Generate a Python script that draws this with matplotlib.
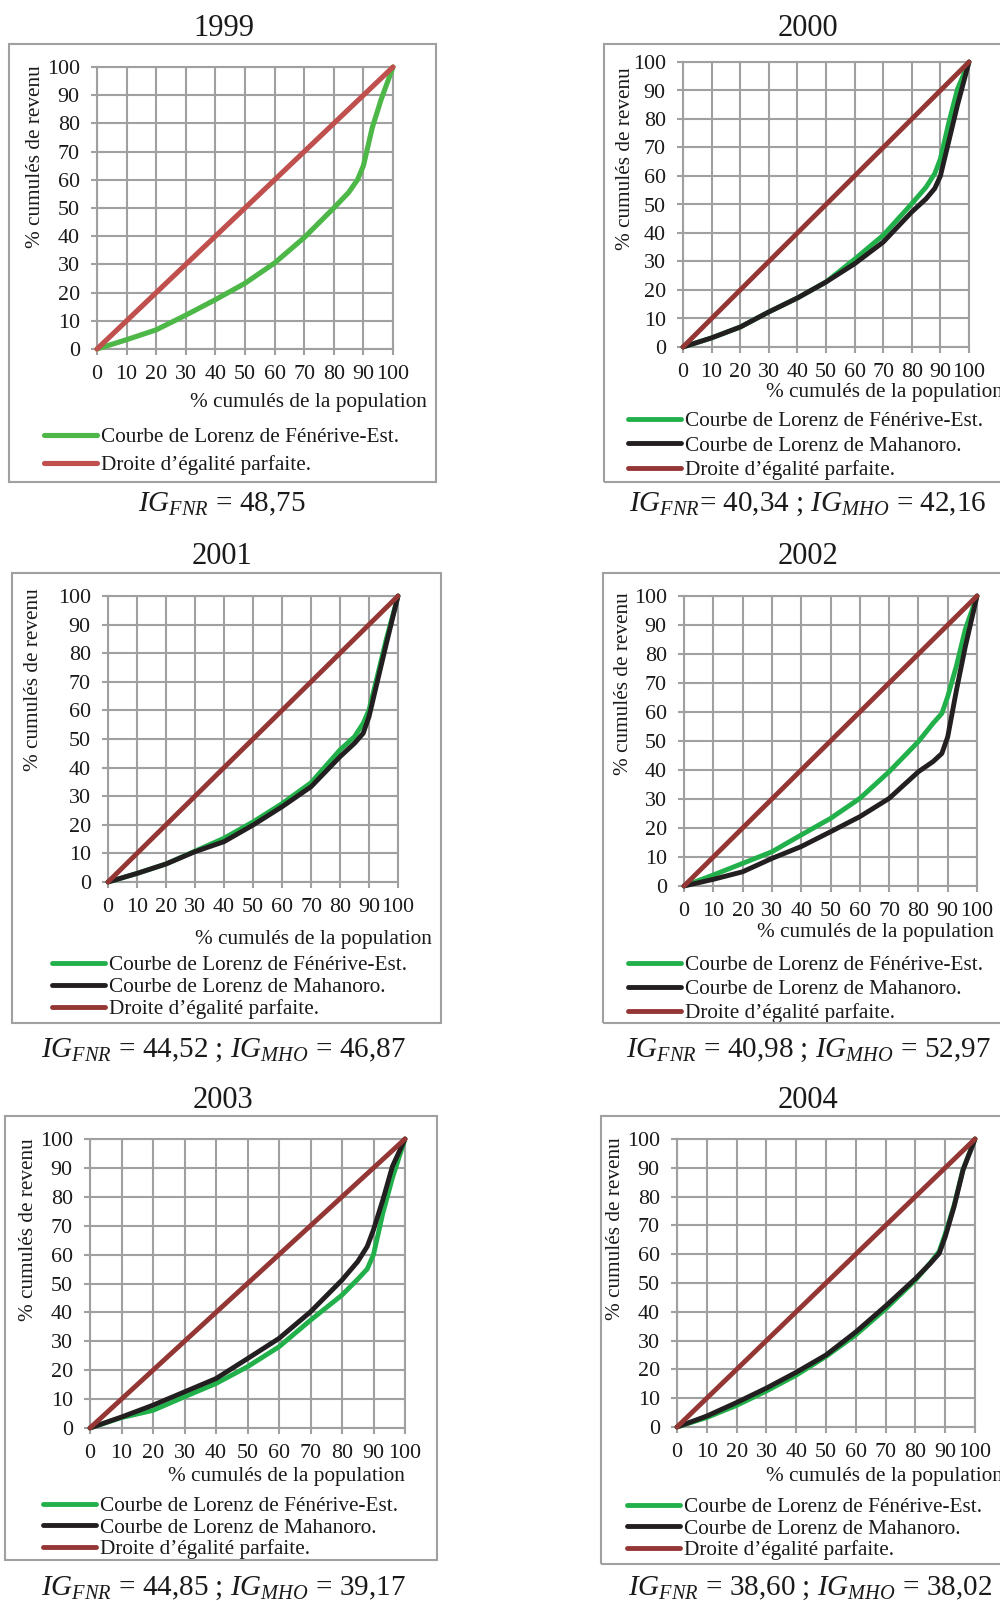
import matplotlib
matplotlib.use("Agg")
import matplotlib.pyplot as plt
from matplotlib.patches import Rectangle

plt.rcParams['font.family'] = ['Liberation Serif', 'DejaVu Serif']
plt.rcParams['mathtext.fontset'] = 'custom'
plt.rcParams['mathtext.rm'] = 'Liberation Serif'
plt.rcParams['mathtext.it'] = 'Liberation Serif:italic'

# % cumulés de la population
pop = [0, 10, 20, 30, 40, 50, 60, 70, 80, 85, 88, 90, 93, 96, 100]
egalite_x = [0, 100]
egalite_y = [0, 100]

years = ['1999', '2000', '2001', '2002', '2003', '2004']

# % cumulés de revenu, Fénérive-Est
fnr_1999 = [0, 3.3, 6.8, 12, 17.5, 23.3, 30.5, 39.5, 50, 55.5, 60, 65, 78.5, 88.5, 100]
fnr_2000 = [0, 3.2, 7.0, 12.3, 17.2, 22.8, 30.8, 39.2, 50.3, 56.1, 60.8, 66, 79, 90.6, 100]
fnr_2001 = [0, 3.0, 6.3, 10.8, 15.3, 21, 27.4, 34.7, 46.2, 50.8, 55.5, 60.1, 72.5, 85, 100]
fnr_2002 = [0, 3.8, 7.8, 11.8, 17.6, 23.3, 30.2, 39.4, 49.8, 56.1, 59.5, 65.3, 76, 88.5, 100]
fnr_2003 = [0, 3.6, 6.1, 10.8, 15.4, 21.2, 28.1, 37.3, 46, 51.5, 55, 60, 74.5, 86.5, 100]
fnr_2004 = [0, 3.3, 7.5, 12.5, 18, 24.5, 32, 41, 51, 57, 61, 67, 77, 89.5, 100]

# % cumulés de revenu, Mahanoro (pas de courbe en 1999)
mho_2000 = [0, 3.2, 7.0, 12.3, 17.2, 22.8, 29.2, 36.8, 47.4, 52, 55.6, 60, 72.5, 85, 100]
mho_2001 = [0, 3.0, 6.3, 10.6, 14.1, 19.9, 26.3, 33.3, 43.8, 48.5, 52, 57.8, 70.6, 83.4, 100]
mho_2002 = [0, 2.3, 4.9, 9.5, 13.6, 18.7, 23.9, 30.2, 39.4, 42.9, 45.7, 51.4, 67.6, 82.5, 100]
mho_2003 = [0, 3.8, 7.9, 12.5, 17.1, 24, 31, 40.2, 51.2, 57.6, 62.8, 68.6, 79, 90.5, 100]
mho_2004 = [0, 3.8, 8.5, 13.5, 19, 25, 33, 42, 51.5, 56.8, 60.3, 66, 76.6, 89.3, 100]

fnr = [fnr_1999, fnr_2000, fnr_2001, fnr_2002, fnr_2003, fnr_2004]
mho = [None, mho_2000, mho_2001, mho_2002, mho_2003, mho_2004]

captions = [
    r'$\mathit{IG}_{\mathit{FNR}}$ = 48,75',
    r'$\mathit{IG}_{\mathit{FNR}}$= 40,34 ; $\mathit{IG}_{\mathit{MHO}}$ = 42,16',
    r'$\mathit{IG}_{\mathit{FNR}}$ = 44,52 ; $\mathit{IG}_{\mathit{MHO}}$ = 46,87',
    r'$\mathit{IG}_{\mathit{FNR}}$ = 40,98 ; $\mathit{IG}_{\mathit{MHO}}$ = 52,97',
    r'$\mathit{IG}_{\mathit{FNR}}$ = 44,85 ; $\mathit{IG}_{\mathit{MHO}}$ = 39,17',
    r'$\mathit{IG}_{\mathit{FNR}}$ = 38,60 ; $\mathit{IG}_{\mathit{MHO}}$ = 38,02',
]

lab_fnr = 'Courbe de Lorenz de Fénérive-Est.'
lab_mho = 'Courbe de Lorenz de Mahanoro.'
lab_eg = 'Droite d\u2019égalité parfaite.'

# layout in pixels of the 1000x1601 image
W, H = 1000.0, 1601.0
# plot area: x0, x100, y100, y0
plots = [(97, 393, 67, 349), (683, 969, 62, 347),
         (108, 398, 596, 882), (684, 977, 596, 886),
         (90, 405, 1139, 1428), (677, 975, 1139, 1427)]
# frame: left, top, right, bottom
frames = [(9, 44, 436, 482), (604, 44, 1010, 482),
          (12, 573, 441, 1023), (603, 573, 1010, 1023),
          (5, 1116, 437, 1560), (601, 1116, 1010, 1564)]
titles_pos = [(224, 28), (808, 28), (222, 557), (808, 557), (223, 1101), (808, 1101)]
caption_pos = [(222, 504), (808, 504), (223, 1050), (808, 1050), (223, 1588), (810, 1588)]
ylabel_pos = [(36, 65), (625, 67), (34, 588), (623, 592), (29, 1138), (616, 1137)]
xlabel_pos = [(427, 403), (1003, 393), (432, 939), (994, 932), (405, 1476), (1003, 1476)]
# legend: handle start x, first row y, row pitch
legend_pos = [(44, 438, 29), (628, 422, 25.5), (52, 966, 23), (628, 966, 25),
              (43, 1507, 22.3), (627, 1508, 22.3)]

grid_col = '#A0A0A0'
fs = 15.3
fs_tick = 15.8


def fx(x):
    return x / W


def fy(y):
    return 1 - y / H


fig = plt.figure(figsize=(10, 16.01), dpi=100)

for i in range(6):
    x0, x1, y1, y0 = plots[i]
    ax = fig.add_axes([fx(x0), fy(y0), (x1 - x0) / W, (y0 - y1) / H])

    if i == 0:
        c_fnr, c_eg, lw = '#4DB748', '#C0504D', 3.7
    else:
        c_fnr, c_eg, lw = '#22B04B', '#943634', 3.5

    handles = []
    l1, = ax.plot(pop, fnr[i], color=c_fnr, lw=lw, label=lab_fnr,
                  solid_joinstyle='round', solid_capstyle='round', clip_on=False, zorder=3)
    handles.append(l1)
    if mho[i] is not None:
        l2, = ax.plot(pop, mho[i], color='#231F20', lw=lw, label=lab_mho,
                      solid_joinstyle='round', solid_capstyle='round', clip_on=False, zorder=4)
        handles.append(l2)
    l3, = ax.plot(egalite_x, egalite_y, color=c_eg, lw=lw, label=lab_eg,
                  solid_capstyle='round', clip_on=False, zorder=5)
    handles.append(l3)

    ax.set_xlim(0, 100)
    ax.set_ylim(0, 100)
    ax.set_xticks(range(0, 101, 10))
    ax.set_yticks(range(0, 101, 10))
    ax.grid(True, color=grid_col, lw=1.5)
    for sp in ax.spines.values():
        sp.set_color(grid_col)
        sp.set_linewidth(1.5)
    ax.tick_params(axis='both', direction='out', length=4.5, width=1.5, color=grid_col,
                   labelsize=fs_tick, labelcolor='#1a1a1a')
    ax.tick_params(axis='x', pad=7)
    ax.tick_params(axis='y', pad=8)
    ax.set_axisbelow(True)

    # frame around the chart
    l, t, r, b = frames[i]
    fig.patches.append(Rectangle((fx(l), fy(b)), (r - l) / W, (b - t) / H,
                                 transform=fig.transFigure, fill=False,
                                 edgecolor='#A0A0A0', lw=1.5))

    tx, ty = titles_pos[i]
    fig.text(fx(tx), fy(ty), years[i], ha='center', va='center', fontsize=22, color='#1a1a1a')

    cx, cy = caption_pos[i]
    fig.text(fx(cx), fy(cy), captions[i], ha='center', va='center', fontsize=21, color='#1a1a1a')

    yx, yy = ylabel_pos[i]
    fig.text(fx(yx), fy(yy), '% cumulés de revenu', rotation=90, ha='center', va='top',
             fontsize=fs, color='#1a1a1a')

    xx, xy = xlabel_pos[i]
    fig.text(fx(xx), fy(xy), '% cumulés de la population', ha='right', va='center',
             fontsize=fs, color='#1a1a1a')

    hx, hy, pitch = legend_pos[i]
    fs_px = fs * 100 / 72.0
    ax.legend(handles=handles, loc='upper left',
              bbox_to_anchor=(fx(hx), fy(hy - fs_px * 0.5)),
              bbox_transform=fig.transFigure, frameon=False, fontsize=fs,
              borderpad=0, borderaxespad=0, handlelength=2.5, handletextpad=0.2,
              labelspacing=max(pitch - 0.98 * fs_px, 0) / fs_px, labelcolor='#1a1a1a')

fig.savefig('out.png', dpi=100)
